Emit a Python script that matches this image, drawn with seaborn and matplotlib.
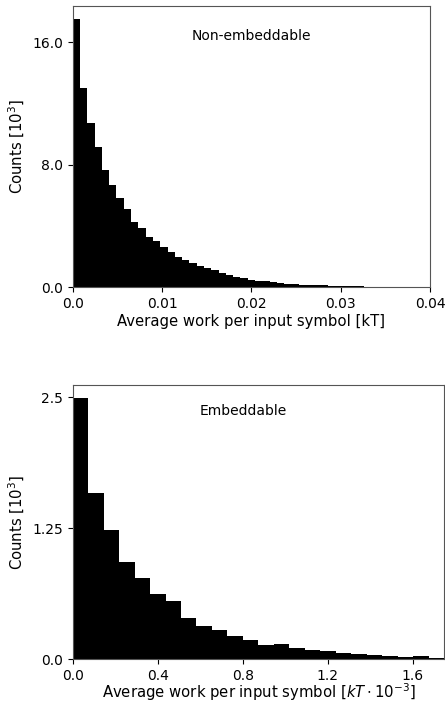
import numpy as np
import pandas as pd
import matplotlib
matplotlib.use("Agg")
import matplotlib.pyplot as plt
import seaborn as sns

# ---- data (counts in units of 10^3) ----
top_bin_width = 0.04 / 49
top_counts = [17.5, 13.05, 10.70, 9.18, 7.69, 6.71, 5.82, 5.14, 4.27, 3.90,
              3.31, 3.05, 2.62, 2.29, 2.00, 1.81, 1.61, 1.39, 1.24, 1.11,
              0.92, 0.80, 0.67, 0.59, 0.50, 0.44, 0.38, 0.33, 0.28, 0.24,
              0.21, 0.18, 0.16, 0.14, 0.12, 0.10, 0.09, 0.08, 0.07, 0.06,
              0.05, 0.05, 0.04, 0.04, 0.03, 0.03, 0.02, 0.02, 0.01]

bot_max = 1.747
bot_counts = [2.49, 1.584, 1.237, 0.925, 0.779, 0.623, 0.556, 0.397, 0.321, 0.280,
              0.225, 0.181, 0.136, 0.146, 0.111, 0.089, 0.076, 0.060, 0.051, 0.041,
              0.032, 0.019, 0.029, 0.010]

top_xticks = [0.0, 0.01, 0.02, 0.03, 0.04]
top_xticklabels = ["0.0", "0.01", "0.02", "0.03", "0.04"]
top_yticks = [0.0, 8.0, 16.0]
top_yticklabels = ["0.0", "8.0", "16.0"]
bot_xticks = [0.0, 0.4, 0.8, 1.2, 1.6]
bot_xticklabels = ["0.0", "0.4", "0.8", "1.2", "1.6"]
bot_yticks = [0.0, 1.25, 2.5]
bot_yticklabels = ["0.0", "1.25", "2.5"]

sns.set_style("ticks")
plt.rcParams['font.family'] = ['DejaVu Sans']
plt.rcParams.update({"text.color": "black", "axes.labelcolor": "black",
                     "xtick.color": "black", "ytick.color": "black"})

fig = plt.figure(figsize=(4.45, 7.04), dpi=100)
ax1 = fig.add_axes([0.1634, 0.5919, 0.8030, 0.3996])
ax2 = fig.add_axes([0.1634, 0.0635, 0.8344, 0.3896])

def draw(ax, counts, binwidth):
    n = len(counts)
    centers = (np.arange(n) + 0.5) * binwidth
    df = pd.DataFrame({"x": centers, "w": list(counts)})
    sns.histplot(data=df, x="x", weights="w", binwidth=binwidth,
                 binrange=(0, n * binwidth), ax=ax,
                 color="black", alpha=1.0, edgecolor="none", linewidth=0)

draw(ax1, top_counts, top_bin_width)
draw(ax2, bot_counts, bot_max / len(bot_counts))

ax1.set_xlim(0, 0.04)
ax1.set_ylim(0, max(top_counts) * 1.05)
ax2.set_xlim(0, bot_max)
ax2.set_ylim(0, max(bot_counts) * 1.05)

ax1.set_xticks(top_xticks)
ax1.set_xticklabels(top_xticklabels)
ax1.set_yticks(top_yticks)
ax1.set_yticklabels(top_yticklabels)
ax2.set_xticks(bot_xticks)
ax2.set_xticklabels(bot_xticklabels)
ax2.set_yticks(bot_yticks)
ax2.set_yticklabels(bot_yticklabels)

for ax in (ax1, ax2):
    ax.tick_params(labelsize=10, width=0.8, length=3.5, color="black",
                   labelcolor="black")
    for s in ax.spines.values():
        s.set_visible(True)
        s.set_linewidth(0.8)
        s.set_color("#555555")
    ax.set_ylabel("Counts [$10^3$]", fontsize=10.7, color="black")

ax1.set_xlabel("Average work per input symbol [kT]", fontsize=10.7, labelpad=2,
               color="black")
ax2.set_xlabel(r"Average work per input symbol [$kT \cdot 10^{-3}$]",
               fontsize=10.7, labelpad=-1, color="black")

ax1.text(0.5, 0.893, "Non-embeddable", transform=ax1.transAxes,
         ha="center", va="center", fontsize=10, color="black")
ax2.text(0.46, 0.905, "Embeddable", transform=ax2.transAxes,
         ha="center", va="center", fontsize=10, color="black")

fig.savefig("out.png", dpi=100)
